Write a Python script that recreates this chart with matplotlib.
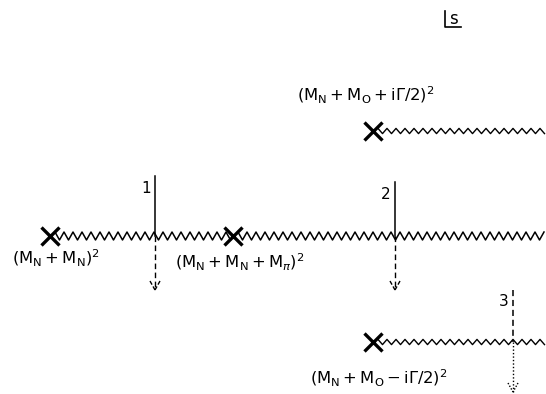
import numpy as np
import matplotlib
matplotlib.use("Agg")
import matplotlib.pyplot as plt

plt.rcParams['mathtext.fontset'] = 'dejavusans'
plt.rcParams['font.family'] = ['DejaVu Sans']

# Branch cuts: (x start of cut, y level, zigzag half-amplitude)
cut_x0 = [50, 233, 373, 373]
cut_y = [236, 236, 131, 342]
cut_amp = [4.0, 4.0, 2.6, 2.6]
cut_x1 = [233, 546, 546, 546]
branch_x = [50, 233, 373, 373]
branch_y = [236, 236, 131, 342]

# Paths crossing the cuts: x, top, cross point, bottom, label
path_x = [155, 395, 513]
path_top = [176, 182, 290]
path_mid = [236, 236, 342]
path_bot = [290, 290, 392]
path_labels = ['1', '2', '3']
upper_style = ['-', '-', (0, (4, 2.5))]
lower_style = [(0, (4, 2.5)), (0, (4, 2.5)), (0, (1, 1.5))]

labels = [r'$(\mathrm{M_N}+\mathrm{M_N})^2$',
          r'$(\mathrm{M_N}+\mathrm{M_N}+\mathrm{M}_{\pi})^2$',
          r'$(\mathrm{M_N}+\mathrm{M_O}+\mathrm{i}\Gamma/2)^2$',
          r'$(\mathrm{M_N}+\mathrm{M_O}-\mathrm{i}\Gamma/2)^2$']
label_x = [12, 175, 297, 310]
label_y = [258, 262, 95, 378]

fig = plt.figure(figsize=(5.46, 3.94), dpi=100)
ax = fig.add_axes([0, 0, 1, 1])
ax.set_xlim(0, 546)
ax.set_ylim(394, 0)
ax.axis('off')

def zigzag(x0, x1, y, amp, period=9.0):
    n = int((x1 - x0) / (period / 2))
    xs = x0 + np.arange(n + 1) * period / 2
    ys = y + np.where(np.arange(n + 1) % 2 == 0, -amp, amp)
    return xs, ys

for x0, x1, y, a in zip(cut_x0, cut_x1, cut_y, cut_amp):
    xs, ys = zigzag(x0 + 5, x1, y, a, 9.0)
    ax.plot(xs, ys, color='black', lw=1.1 if a > 3 else 1.0)

ax.plot(branch_x, branch_y, 'x', color='black', markersize=13, mew=2.4)

for x, t, m, b, lab, us, ls in zip(path_x, path_top, path_mid, path_bot,
                                    path_labels, upper_style, lower_style):
    ax.plot([x, x], [t, m], color='black', lw=1.1, linestyle=us)
    ax.plot([x, x], [m, b], color='black', lw=1.0, linestyle=ls)
    head_ls = (0, (3, 1.5)) if ls != (0, (1, 1.5)) else (0, (1, 1.2))
    ax.plot([x - 5, x], [b - 9, b], color='black', lw=1.0, linestyle=head_ls)
    ax.plot([x + 5, x], [b - 9, b], color='black', lw=1.0, linestyle=head_ls)
    ax.text(x - 4, t + 12, lab, fontsize=11, ha='right', va='center')

for s, x, y in zip(labels, label_x, label_y):
    ax.text(x, y, s, fontsize=11.8, ha='left', va='center')

# "s" plane box
ax.plot([445, 445, 461], [11, 27, 27], color='black', lw=1.2)
ax.text(453, 19, 's', fontsize=12, ha='center', va='center')

fig.savefig('out.png', dpi=100)
